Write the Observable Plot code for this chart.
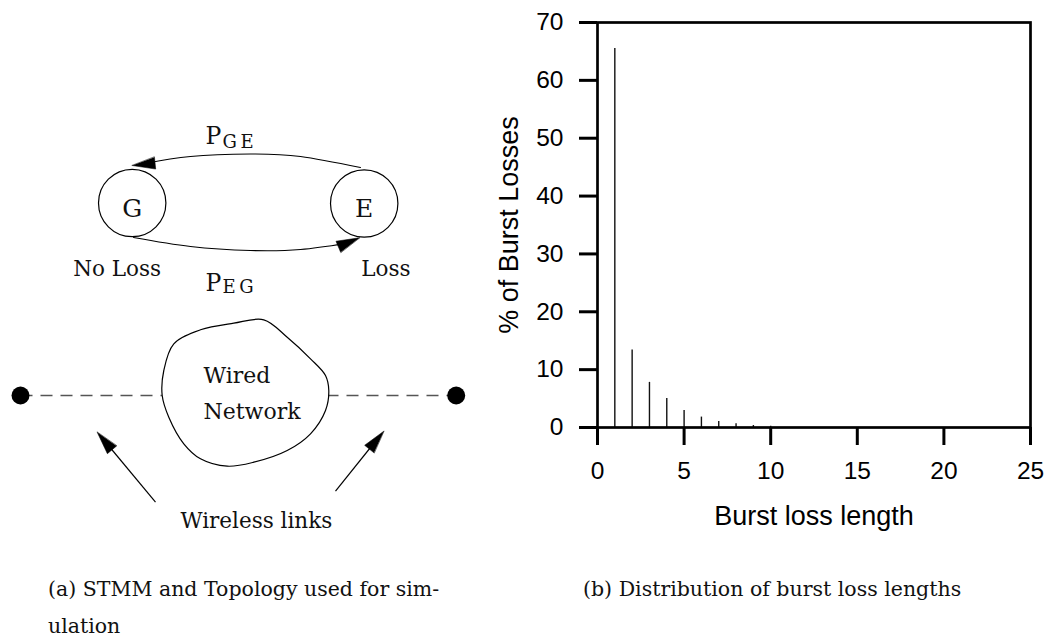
<!DOCTYPE html>
<html><head><meta charset="utf-8">
<script src="https://cdn.jsdelivr.net/npm/d3@7"></script>
<script src="https://cdn.jsdelivr.net/npm/@observablehq/plot@0.6"></script>
<style>
html,body{margin:0;padding:0;background:#fff;}
#page{position:relative;width:1047px;height:637px;overflow:hidden;background:#fff;}
#left{position:absolute;left:0;top:0;}
#right{position:absolute;left:480px;top:0;}
.cap{position:absolute;font-family:"DejaVu Serif",serif;font-size:20.5px;color:#111;line-height:37px;white-space:nowrap;}
</style></head>
<body><div id="page"><div id="left"></div><div id="right"></div>
<div class="cap" style="left:48px;top:571px;">(a) STMM and Topology used for sim-<br>ulation</div>
<div class="cap" style="left:583px;top:571px;">(b) Distribution of burst loss lengths</div>
</div>
<script>
// ---- Chart (b) data ----
const burstLength = [1, 2, 3, 4, 5, 6, 7, 8, 9, 10];
const burstPercent = [65.5, 13.4, 7.8, 5.0, 2.95, 1.8, 1.05, 0.65, 0.35, 0.2];
const xTicks = [0, 5, 10, 15, 20, 25];
const yTicks = [0, 10, 20, 30, 40, 50, 60, 70];
const xLabel = "Burst loss length";
const yLabel = "% of Burst Losses";

// ---- Diagram (a) data ----
const states = [{name: "G", x: 131.7, y: 208}, {name: "E", x: 363.7, y: 208.5}];
const stateCircles = [{x: 131.7, y: 202.5}, {x: 363.7, y: 203}];
const stateLabels = [{text: "No Loss", x: 72.7, y: 275}, {text: "Loss", x: 360.7, y: 275}];
const probMain = [{text: "P", x: 205, y: 143}, {text: "P", x: 205, y: 290}];
const probSub = [{text: "G\u2009E", x: 222, y: 147}, {text: "E\u2009G", x: 222, y: 292}];
const arcGE = [{x: 360, y: 167}, {x: 300, y: 156}, {x: 250, y: 153.5}, {x: 190, y: 156}, {x: 145, y: 163}];
const arcEG = [{x: 133, y: 237}, {x: 190, y: 246}, {x: 250, y: 250}, {x: 300, y: 249}, {x: 345, y: 243}];
const arrowHeads = [
  {x: 131.7, y: 165, angle: -96},
  {x: 359, y: 237.3, angle: 67},
  {x: 96.7, y: 431.7, angle: -40},
  {x: 383.3, y: 430.7, angle: 39}
];
const hosts = [{x: 20, y: 395}, {x: 455.7, y: 395}];
const dashedLinks = [{x1: 20, y1: 395, x2: 161.7, y2: 395}, {x1: 326, y1: 395, x2: 455.7, y2: 395}];
const wirelessArrows = [{x1: 155, y1: 501.7, x2: 100, y2: 435.5}, {x1: 335, y1: 490.7, x2: 380, y2: 434.5}];
const cloud = [
  {x: 263.3, y: 319.3}, {x: 286.7, y: 336.7}, {x: 310, y: 358.3}, {x: 325, y: 375},
  {x: 328.3, y: 390}, {x: 325, y: 410}, {x: 310, y: 433.3}, {x: 286.7, y: 450},
  {x: 253.3, y: 461.7}, {x: 226.7, y: 465.7}, {x: 200, y: 458.3}, {x: 183.3, y: 443.3},
  {x: 168.3, y: 416.7}, {x: 161.7, y: 395}, {x: 163.3, y: 370}, {x: 173.3, y: 343.3},
  {x: 200, y: 329.3}, {x: 233.3, y: 322.7}
];
const cloudLabels = [{text: "Wired", x: 203, y: 382}, {text: "Network", x: 203, y: 418}];
const linkLabel = [{text: "Wireless links", x: 180, y: 527}];

const serif = "DejaVu Serif";
const filledHead = {
  draw(context, l, r) {
    context.moveTo(0, -l);
    context.lineTo(-r, 0);
    context.lineTo(r, 0);
    context.closePath();
  }
};

const diagram = Plot.plot({
  width: 480, height: 560, margin: 0,
  x: {domain: [0, 480], range: [0, 480]},
  y: {domain: [0, 560], range: [0, 560]},
  axis: null,
  style: {background: "white", overflow: "visible"},
  marks: [
    Plot.link(dashedLinks, {x1: "x1", y1: "y1", x2: "x2", y2: "y2", stroke: "#555", strokeWidth: 1.6, strokeDasharray: "12,8"}),
    Plot.dot(hosts, {x: "x", y: "y", r: 9, fill: "black"}),
    Plot.line(cloud, {x: "x", y: "y", curve: "catmull-rom-closed", stroke: "black", strokeWidth: 1.2, fill: "white"}),
    Plot.text(cloudLabels, {x: "x", y: "y", text: "text", textAnchor: "start", lineAnchor: "bottom", fontFamily: serif, fontSize: 22, fill: "#111"}),
    Plot.link(wirelessArrows, {x1: "x1", y1: "y1", x2: "x2", y2: "y2", stroke: "black", strokeWidth: 1.2}),
    Plot.text(linkLabel, {x: "x", y: "y", text: "text", textAnchor: "start", lineAnchor: "bottom", fontFamily: serif, fontSize: 21.5, fill: "#111"}),
    Plot.dot(stateCircles, {x: "x", y: "y", r: 33.7, stroke: "black", strokeWidth: 1.2, fill: "white"}),
    Plot.text(states, {x: "x", y: "y", text: "name", fontFamily: serif, fontSize: 25, fill: "#111"}),
    Plot.text(stateLabels, {x: "x", y: "y", text: "text", textAnchor: "start", lineAnchor: "bottom", fontFamily: serif, fontSize: 21.5, fill: "#111"}),
    Plot.line(arcGE, {x: "x", y: "y", curve: "natural", stroke: "black", strokeWidth: 1.2}),
    Plot.line(arcEG, {x: "x", y: "y", curve: "natural", stroke: "black", strokeWidth: 1.2}),
    Plot.vector(arrowHeads, {x: "x", y: "y", rotate: "angle", length: 23, r: 6, anchor: "end", shape: filledHead, fill: "black", stroke: "black", strokeWidth: 0.5}),
    Plot.text(probMain, {x: "x", y: "y", text: "text", textAnchor: "start", lineAnchor: "bottom", fontFamily: serif, fontSize: 23.5, fill: "#111"}),
    Plot.text(probSub, {x: "x", y: "y", text: "text", textAnchor: "start", lineAnchor: "bottom", fontFamily: serif, fontSize: 18, fill: "#111"})
  ]
});
document.getElementById("left").append(diagram);

const bursts = burstLength.map((len, i) => ({len, pct: burstPercent[i]}));
const chart = Plot.plot({
  width: 567, height: 560,
  marginLeft: 117, marginRight: 17, marginTop: 22, marginBottom: 133,
  style: {fontFamily: "Liberation Sans, Arial, sans-serif", background: "white", color: "black", overflow: "visible"},
  x: {domain: [0, 25]},
  y: {domain: [0, 70]},
  marks: [
    Plot.ruleX(bursts, {x: "len", y1: 0, y2: "pct", stroke: "#111", strokeWidth: 1.4}),
    Plot.frame({stroke: "black", strokeWidth: 2.7}),
    Plot.axisX({ticks: xTicks, tickSize: 18, strokeWidth: 3, tickPadding: 16, fontSize: 24.5, label: null}),
    Plot.axisY({ticks: yTicks, tickSize: 18, strokeWidth: 3, tickPadding: 16, fontSize: 24.5, label: null}),
    Plot.text([xLabel], {text: d => d, frameAnchor: "bottom", textAnchor: "middle", dy: 97, lineAnchor: "bottom", fontSize: 27, fill: "black"}),
    Plot.text([yLabel], {text: d => d, frameAnchor: "left", textAnchor: "middle", rotate: -90, dx: -99, lineAnchor: "top", fontSize: 27, fill: "black"})
  ]
});
document.getElementById("right").append(chart);
</script>
</body></html>
